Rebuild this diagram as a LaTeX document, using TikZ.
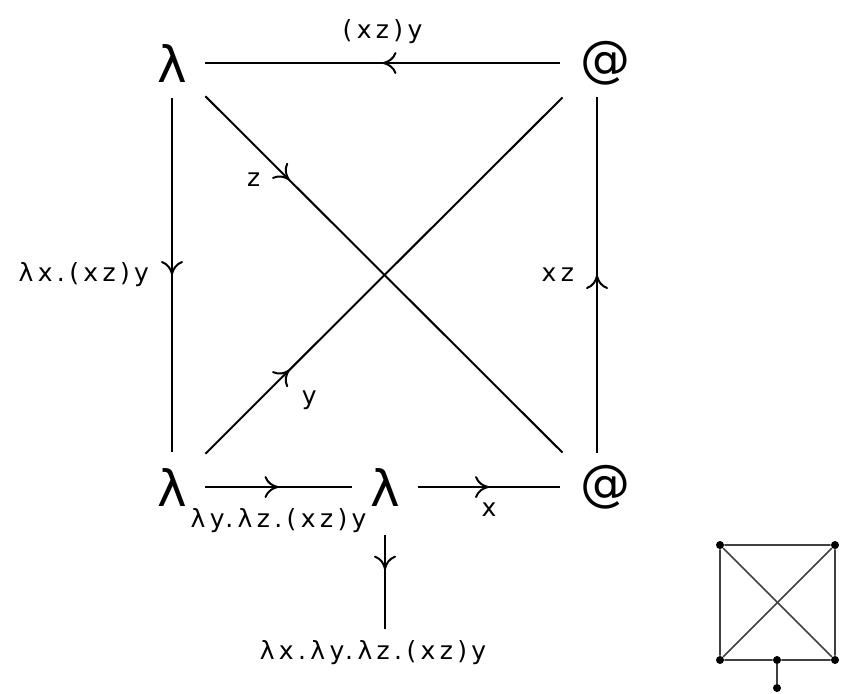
\documentclass[tikz,border=0pt]{standalone}
\usepackage{fontspec}
\setmainfont{DejaVu Sans}
\newfontfamily\lblfont[LetterSpace=17.5]{DejaVu Sans}
\usetikzlibrary{decorations.markings, arrows.meta}
\tikzset{
  sym/.style={rectangle, inner sep=0pt, minimum width=33pt, minimum height=35pt, font=\fontsize{25}{25}\selectfont},
  atsym/.style={sym, minimum width=37pt, minimum height=34pt},
  lbl/.style={inner sep=0pt, font=\fontsize{12.5}{14}\lblfont},
  mid/.style={postaction={decorate}, decoration={markings, mark=at position #1 with {\arrow[line width=1pt]{Computer Modern Rightarrow[width=11pt, length=7pt]}}}},
  mid/.default=0.5,
  edge/.style={line width=1pt},
  dot/.style={circle, fill=black, inner sep=0pt, minimum size=4pt},
  small/.style={line width=0.8pt, black!75},
}
\begin{document}
\begin{tikzpicture}[x=0.5pt, y=-0.5pt]
  \useasboundingbox (0,0) rectangle (845,693);
  % Knoten
  \node[sym] (lt) at (172,63) {λ};
  \node[atsym] (rt) at (597,63) {\hspace{8pt}@};
  \node[sym] (lb) at (172,487) {λ};
  \node[sym] (mb) at (385,487) {λ};
  \node[atsym] (rb) at (597,487) {\hspace{8pt}@};
  \node[lbl] (res) at (373,653) {λx.λy.λz.(xz)y};

  % Kanten
  \draw[edge, mid] (rt) -- node[lbl, above=9pt] {(xz)y} (lt);
  \draw[edge, mid] (lt) -- node[lbl, left=11pt] {λx.(xz)y} (lb);
  \draw[edge, mid] (rb) -- node[lbl, left=11pt] {xz} (rt);
  \draw[edge, mid=0.235] (lt) -- node[lbl, pos=0.235, left=14pt] {z} (rb);
  \draw[edge, mid=0.235] (lb) -- node[lbl, pos=0.235, xshift=10pt, yshift=-15pt] {y} (rt);
  \draw[edge, mid] (lb) -- node[lbl, below=10pt] {λy.λz.(xz)y} (mb);
  \draw[edge, mid] (mb) -- node[lbl, below=7.5pt] {x} (rb);
  \draw[edge, mid=0.4, shorten <=6.5pt, shorten >=6pt] (mb) -- (res.north -| mb);

  % kleiner Graph
  \node[dot] (g1) at (720,545) {};
  \node[dot] (g2) at (835,545) {};
  \node[dot] (g3) at (720,660) {};
  \node[dot] (g4) at (835,660) {};
  \node[dot] (g5) at (777,660) {};
  \node[dot] (g6) at (777,688) {};
  \draw[small] (g1) -- (g2) -- (g4) -- (g5) -- (g3) -- (g1) -- (g4);
  \draw[small] (g3) -- (g2);
  \draw[small] (g5) -- (g6);
\end{tikzpicture}
\end{document}
